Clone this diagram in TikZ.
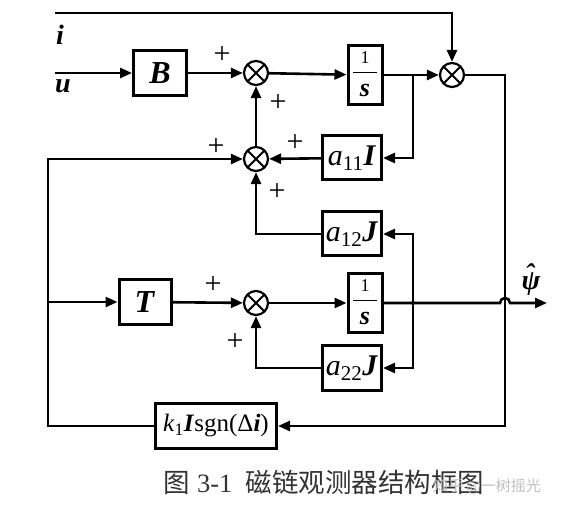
\documentclass[tikz,border=0pt]{standalone}
\usepackage{fontspec}
\setmainfont{Liberation Serif}
\newfontfamily\cjk{Noto Sans CJK SC}
\usetikzlibrary{arrows.meta}
\newcommand{\bi}[1]{\textbf{\textit{#1}}}
\newcommand{\integ}{\begin{tabular}{@{}c@{}}\makebox[24pt]{\fontsize{18}{18}\selectfont 1}\\[1pt]\hline\rule{0pt}{24pt}\bi{s}\end{tabular}}

\begin{document}
\begin{tikzpicture}[x=1pt, y=-1pt, line width=2.6pt,
    >={Triangle[length=12pt,width=10pt]},
    blk/.style={draw, line width=3pt, inner sep=0pt, minimum width=53pt, minimum height=45pt,
        font=\fontsize{32}{32}\selectfont},
    gain/.style={blk, minimum width=59pt, minimum height=44pt, font=\fontsize{30}{30}\selectfont},
    intg/.style={blk, minimum width=34pt, minimum height=49pt, font=\fontsize{26}{26}\selectfont},
    sum/.style={circle, draw, line width=2.2pt, minimum size=24pt, inner sep=0pt,
        path picture={\draw[line width=2pt]
            (path picture bounding box.north west) -- (path picture bounding box.south east)
            (path picture bounding box.north east) -- (path picture bounding box.south west);}},
    pm/.style={font=\fontsize{30}{30}\selectfont},
    lbl/.style={font=\fontsize{28}{28}\selectfont}]
    \useasboundingbox (0,0) rectangle (563,513);

    % blocks
    \node[blk] (boxB) at (160,73) {\bi{B}};
    \node[blk, minimum width=52pt] (boxT) at (145,302) {\bi{T}};
    \node[intg] (intA) at (365,75) {\integ};
    \node[intg] (intB) at (365,303) {\integ};
    \node[gain] (aOne) at (352,158) {\textit{a}\textsubscript{11}\bi{I}};
    \node[gain] (aTwo) at (352,234) {\textit{a}\textsubscript{12}\bi{J}};
    \node[gain, minimum height=45pt] (aThree) at (352,368) {\textit{a}\textsubscript{22}\bi{J}};
    \node[blk, minimum width=121pt, font=\fontsize{25}{25}\selectfont] (boxK) at (216,426)
        {\textit{k}\textsubscript{1}\bi{I}sgn(Δ\bi{i})};

    % summing points
    \node[sum] (sumA) at (256,73) {};
    \node[sum] (sumB) at (256,159) {};
    \node[sum] (sumC) at (452,75) {};
    \node[sum] (sumD) at (256,303) {};

    % signs
    \node[pm] (pA1) at (222,55) {+};
    \node[pm] (pA2) at (278,103) {+};
    \node[pm] (pB1) at (216,147) {+};
    \node[pm] (pB2) at (295,143) {+};
    \node[pm] (pB3) at (277,192) {+};
    \node[pm] (pD1) at (213,285) {+};
    \node[pm] (pD2) at (235,342) {+};

    % inputs and outputs
    \coordinate (iIn) at (55,13);
    \coordinate (uIn) at (55,73);
    \node[lbl] (iLbl) at (60,35) {\bi{i}};
    \node[lbl] (uLbl) at (63,86) {\bi{u}};
    \coordinate (brA) at (413,75);
    \coordinate (brB) at (413,303);
    \coordinate (jmp) at (505,303);
    \coordinate (psiOut) at (547,303);
    \coordinate (fbk) at (505,426);
    \coordinate (lftT) at (48,159);
    \node[lbl] (psiLbl) at (531,280)
        {\bi{\rlap{\hspace{0.12em}\raisebox{0.22em}{ˆ}}ψ}};

    % top path
    \draw[->] (iIn) -| (sumC.north);
    \draw[->] (uIn) -- (boxB);
    \draw[->] (boxB) -- (sumA);
    \draw[->] (sumA) -- (intA);
    \draw[->] (intA) -- (sumC);
    \draw[->] (brA) |- (aOne);
    \draw[->] (aOne) -- (sumB);
    \draw[->] (sumB) -- (sumA);
    \draw[->] (aTwo) -| (sumB);

    % bottom path
    \draw[->] (lftT |- boxT) -- (boxT);
    \draw[->] (boxT) -- (sumD);
    \draw[->] (sumD) -- (intB);
    \draw[->] (brB) |- (aTwo);
    \draw[->] (brB) |- (aThree);
    \draw[->] (aThree) -| (sumD);
    \fill (brB) circle (2pt);
    \draw[->] (intB) -- ([xshift=-5pt]jmp) arc (180:0:5pt) -- (psiOut);

    % feedback
    \draw[->] (sumC) -| (fbk) -- (boxK);
    \draw[->] (boxK) -| (lftT) -- (sumB);

    % caption
    \node[font=\fontsize{26.5}{26.5}\selectfont, text=black!80] (cap) at (324,482)
        {{\cjk 图} 3-1\hspace{0.5em}{\cjk 磁链观测器结构框图}};
    \node[font=\fontsize{15}{15}\selectfont, text=black!25] (wm) at (487,487) {{\cjk 知乎} @{\cjk 一树摇光}};
\end{tikzpicture}
\end{document}
